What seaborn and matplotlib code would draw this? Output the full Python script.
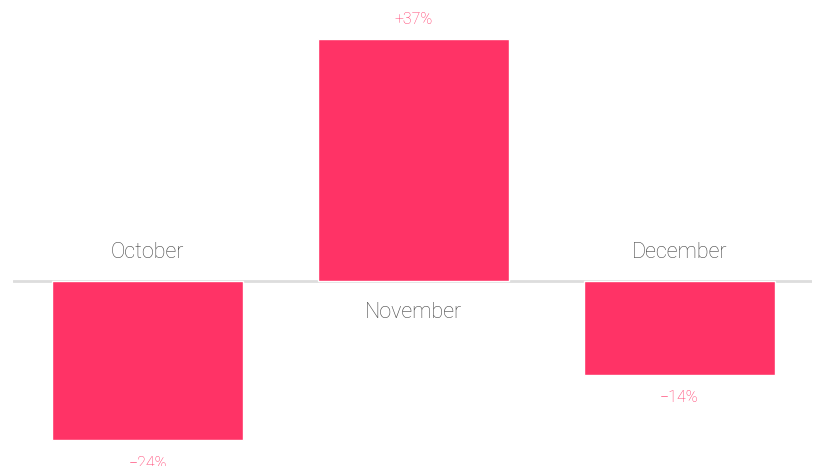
#!/usr/bin/env python3
# Month-over-month change, diverging bar chart

import matplotlib
matplotlib.use('Agg')
import matplotlib.pyplot as plt
import seaborn as sns
import pandas as pd

################
# Data

months = ['October', 'November', 'December']
changes = [-24.4, 36.8, -14.4]

barColor = '#ff3366'
labelColor = '#ff3366'
monthColor = '#444444'

##########

def fmtPct(v):
  """Signed percent label with a real minus sign"""
  s = '{:+.0f}%'.format(v)
  return s.replace('-', '\u2212')

def main():
  sns.set_theme(style='white')
  plt.rcParams['font.family'] = ['Roboto', 'DejaVu Sans']

  df = pd.DataFrame({'month': months, 'change': changes})

  fig = plt.figure(figsize=(8.14, 4.66), dpi=100)
  ax = fig.add_axes([13 / 814, 0, 799 / 814, 1])

  sns.barplot(data=df, x='month', y='change', color=barColor,
              width=0.718, saturation=1, ax=ax)

  ax.set_xlim(-0.506, 2.498)
  ax.set_ylim(-28.3, 42.8)
  ax.axhline(0, color='#dddddd', lw=2, zorder=0)

  # Value labels beyond the bar ends, month labels on the other side of zero
  for i, (m, v) in enumerate(zip(months, changes)):
    if v >= 0:
      valOff, monOff = 14, -23
    else:
      valOff, monOff = -16.5, 20.5
    ax.annotate(fmtPct(v), (i, v), xytext=(0, valOff), textcoords='offset points',
                ha='center', va='center', fontsize=11.5, color=labelColor,
                fontweight='light', annotation_clip=False)
    ax.annotate(m, (i, 0), xytext=(0, monOff), textcoords='offset points',
                ha='center', va='center', fontsize=15.5, color=monthColor,
                fontweight='light', annotation_clip=False)

  ax.set_axis_off()
  fig.savefig('out.png', dpi=100)

main()
